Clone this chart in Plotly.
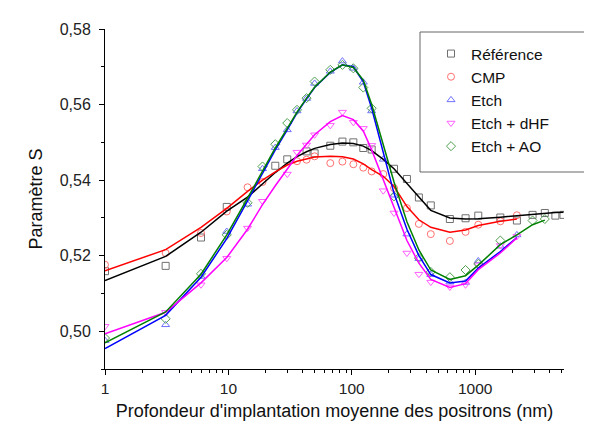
import plotly.graph_objects as go
import numpy as np

# ---------------- data ----------------
ref_x = [1, 3.1, 6, 9.7, 24, 30, 43, 50, 67, 84, 103, 124, 145, 220, 280, 350, 437, 624, 836, 1060, 1600, 2180, 2920, 3670, 4470, 5200]
ref_y = [0.5159, 0.5173, 0.5248, 0.5329, 0.5438, 0.5455, 0.5476, 0.5471, 0.5491, 0.5502, 0.5500, 0.5485, 0.5481, 0.5430, 0.5403, 0.5354, 0.5333, 0.5297, 0.5299, 0.5306, 0.5301, 0.5293, 0.5308, 0.5313, 0.5306, 0.5308]
ref_fit_x = [1, 3.1, 6, 9.7, 14.3, 18.9, 24, 30, 36, 43, 50, 67, 84, 103, 124, 145, 180, 220, 280, 350, 437, 624, 836, 1060, 1600, 2180, 2920, 3670, 4470, 5200]
ref_fit_y = [0.5134, 0.5198, 0.5262, 0.5318, 0.5355, 0.5390, 0.5420, 0.5445, 0.5462, 0.5475, 0.5484, 0.5494, 0.5498, 0.5497, 0.5490, 0.5478, 0.5455, 0.5430, 0.5390, 0.5355, 0.5320, 0.5300, 0.5297, 0.5298, 0.5302, 0.5306, 0.5310, 0.5312, 0.5314, 0.5315]

cmp_x = [1, 3.1, 6, 9.7, 14.3, 18.9, 36, 43, 50, 67, 84, 103, 124, 145, 180, 220, 280, 350, 437, 624, 836, 1060, 1600, 2180]
cmp_y = [0.5176, 0.5207, 0.5260, 0.5317, 0.5381, 0.5395, 0.5450, 0.5454, 0.5463, 0.5445, 0.5449, 0.5442, 0.5433, 0.5423, 0.5416, 0.5379, 0.5326, 0.5284, 0.5257, 0.5239, 0.5263, 0.5282, 0.5291, 0.5307]
cmp_fit_x = [1, 3.1, 6, 9.7, 14.3, 18.9, 24, 30, 36, 43, 50, 67, 84, 103, 124, 145, 180, 220, 280, 350, 437, 624, 836, 1060, 1600, 2180]
cmp_fit_y = [0.5160, 0.5216, 0.5275, 0.5325, 0.5370, 0.5400, 0.5422, 0.5440, 0.5450, 0.5457, 0.5461, 0.5463, 0.5462, 0.5456, 0.5443, 0.5428, 0.5410, 0.5383, 0.5330, 0.5295, 0.5275, 0.5262, 0.5268, 0.5280, 0.5291, 0.5297]

etch_x = [1, 3.1, 6, 9.7, 14.3, 18.9, 24, 30, 36, 43, 50, 67, 84, 103, 124, 145, 180, 220, 280, 350, 437, 624, 836, 1060, 1600, 2180]
etch_y = [0.4975, 0.5017, 0.5145, 0.5264, 0.5336, 0.5430, 0.5486, 0.5533, 0.5583, 0.5616, 0.5656, 0.5688, 0.5715, 0.5696, 0.5659, 0.5583, 0.5455, 0.5360, 0.5257, 0.5192, 0.5150, 0.5130, 0.5129, 0.5186, 0.5225, 0.5255]
etch_fit_x = [1, 3.1, 6, 9.7, 14.3, 18.9, 24, 30, 36, 43, 50, 67, 84, 103, 124, 145, 180, 220, 280, 350, 437, 624, 836, 1060, 1600, 2180]
etch_fit_y = [0.4954, 0.5042, 0.5143, 0.5245, 0.5345, 0.5420, 0.5480, 0.5533, 0.5578, 0.5615, 0.5645, 0.5685, 0.5705, 0.5700, 0.5660, 0.5590, 0.5470, 0.5365, 0.5270, 0.5200, 0.5150, 0.5128, 0.5133, 0.5167, 0.5211, 0.5248]

dhf_x = [1, 3.1, 6, 9.7, 14.3, 18.9, 30, 36, 43, 50, 67, 84, 103, 124, 145, 180, 220, 280, 350, 437, 624, 836, 1060, 1600, 2180]
dhf_y = [0.5013, 0.5050, 0.5123, 0.5193, 0.5273, 0.5344, 0.5416, 0.5474, 0.5493, 0.5520, 0.5545, 0.5580, 0.5553, 0.5537, 0.5492, 0.5372, 0.5313, 0.5207, 0.5151, 0.5130, 0.5117, 0.5123, 0.5176, 0.5227, 0.5251]
dhf_fit_x = [1, 3.1, 6, 9.7, 14.3, 18.9, 24, 30, 36, 43, 50, 67, 84, 103, 124, 145, 180, 220, 280, 350, 437, 624, 836, 1060, 1600, 2180]
dhf_fit_y = [0.4993, 0.5050, 0.5128, 0.5195, 0.5270, 0.5335, 0.5385, 0.5430, 0.5465, 0.5495, 0.5520, 0.5555, 0.5571, 0.5560, 0.5530, 0.5480, 0.5400, 0.5325, 0.5240, 0.5180, 0.5137, 0.5116, 0.5126, 0.5163, 0.5207, 0.5247]

ao_x = [1, 3.1, 6, 9.7, 14.3, 18.9, 24, 30, 36, 43, 50, 67, 84, 103, 124, 145, 220, 350, 437, 624, 836, 1060, 1600, 2920, 3670]
ao_y = [0.4982, 0.5033, 0.5152, 0.5255, 0.5340, 0.5436, 0.5495, 0.5551, 0.5586, 0.5617, 0.5661, 0.5692, 0.5705, 0.5696, 0.5645, 0.5590, 0.5357, 0.5194, 0.5157, 0.5143, 0.5162, 0.5178, 0.5240, 0.5293, 0.5297]
ao_fit_x = [1, 3.1, 6, 9.7, 14.3, 18.9, 24, 30, 36, 43, 50, 67, 84, 103, 124, 145, 180, 220, 280, 350, 437, 624, 836, 1060, 1600, 2180, 2920, 3670]
ao_fit_y = [0.4969, 0.5051, 0.5151, 0.5255, 0.5352, 0.5425, 0.5485, 0.5537, 0.5580, 0.5617, 0.5646, 0.5686, 0.5705, 0.5698, 0.5665, 0.5600, 0.5490, 0.5395, 0.5290, 0.5215, 0.5162, 0.5137, 0.5147, 0.5175, 0.5229, 0.5255, 0.5282, 0.5294]

names = ["Référence", "CMP", "Etch", "Etch + dHF", "Etch + AO"]
y_tickvals = [0.50, 0.52, 0.54, 0.56, 0.58]
y_ticktext = ["0,50", "0,52", "0,54", "0,56", "0,58"]
x_tickvals = [1, 10, 100, 1000]
x_ticktext = ["1", "10", "100", "1000"]

# ---------------- styles ----------------
series = [
    (ref_x, ref_y, ref_fit_x, ref_fit_y, "square-open", "#707070", "#000000"),
    (cmp_x, cmp_y, cmp_fit_x, cmp_fit_y, "circle-open", "#ff7070", "#ff0000"),
    (etch_x, etch_y, etch_fit_x, etch_fit_y, "triangle-up-open", "#7070ff", "#0000ff"),
    (dhf_x, dhf_y, dhf_fit_x, dhf_fit_y, "triangle-down-open", "#ff60ff", "#ff00ff"),
    (ao_x, ao_y, ao_fit_x, ao_fit_y, "diamond-open", "#50a050", "#008000"),
]

fig = go.Figure()
for (sx, sy, fx, fy, sym, mcol, lcol), name in zip(series, names):
    fig.add_trace(go.Scatter(x=sx, y=sy, mode="markers", name=name,
                             marker=dict(symbol=sym, size=7, color=mcol,
                                         line=dict(color=mcol, width=1))))
for (sx, sy, fx, fy, sym, mcol, lcol), name in zip(series, names):
    fig.add_trace(go.Scatter(x=fx, y=fy, mode="lines", showlegend=False,
                             line=dict(color=lcol, width=1.5)))

minor_x = [m * 10 ** d for d in range(0, 4) for m in range(2, 10) if m * 10 ** d <= 5200]

PX0, PX1, PY0, PY1 = 97, 556, 21, 361  # plot area in pixels (layout only)
fig.update_layout(
    width=592, height=424,
    margin=dict(l=PX0, r=592 - PX1, t=PY0, b=424 - PY1, autoexpand=False),
    paper_bgcolor="white", plot_bgcolor="white",
    font=dict(family="Liberation Sans, Arial, sans-serif", size=15, color="#222"),
    showlegend=True,
    legend=dict(x=(423 - PX0) / (PX1 - PX0), y=(PY1 - 29) / (PY1 - PY0),
                xanchor="left", yanchor="top", bgcolor="rgba(0,0,0,0)",
                font=dict(size=15.5, color="#111"), tracegroupgap=0),
    shapes=[dict(type="rect", xref="paper", yref="paper",
                 x0=(412 - PX0) / (PX1 - PX0), x1=(581 - PX0) / (PX1 - PX0),
                 y0=(PY1 - 164) / (PY1 - PY0), y1=(PY1 - 24) / (PY1 - PY0),
                 line=dict(color="#666", width=1), fillcolor="rgba(0,0,0,0)")],
)
fig.update_xaxes(type="log", range=[0, np.log10(5250)],
                 showgrid=False, zeroline=False, showline=True, linecolor="black", linewidth=1,
                 ticks="outside", ticklen=5, tickcolor="black", tickfont=dict(size=15.5),
                 tickvals=x_tickvals, ticktext=x_ticktext,
                 minor=dict(tickvals=minor_x, ticks="outside", ticklen=3, tickcolor="black", showgrid=False),
                 title=dict(text="Profondeur d'implantation moyenne des positrons (nm)",
                            font=dict(size=18, color="#111"), standoff=8))
fig.update_yaxes(range=[0.49, 0.58],
                 showgrid=False, zeroline=False, showline=True, linecolor="black", linewidth=1,
                 ticks="outside", ticklen=5, tickcolor="black", tickfont=dict(size=16),
                 ticklabelstandoff=5,
                 tickvals=y_tickvals, ticktext=y_ticktext,
                 minor=dict(tickvals=[0.49, 0.51, 0.53, 0.55, 0.57], ticks="outside", ticklen=3,
                            tickcolor="black", showgrid=False),
                 title=dict(text="Paramètre S", font=dict(size=18, color="#111"), standoff=12))

fig.write_html("out.html")
